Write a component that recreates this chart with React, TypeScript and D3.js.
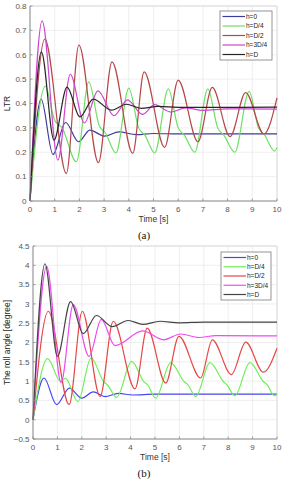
import React from 'react'
import * as d3 from 'd3'

type Pt = [number, number]

// ---- (a) LTR ----
const ltrH0: Pt[] = [[0, 0], [0.45, 0.418], [0.93, 0.191], [1.44, 0.322], [1.97, 0.243], [2.42, 0.291], [3.02, 0.266], [3.6, 0.284], [4.3, 0.272], [5, 0.277], [6, 0.275], [10, 0.275]]
const ltrHD4: Pt[] = [[0, 0], [0.62, 0.471], [1.0, 0.33], [1.3, 0.3], [1.88, 0.161], [2.38, 0.489], [2.8, 0.31], [3.05, 0.28], [3.48, 0.197], [4.0, 0.463], [4.4, 0.3], [4.65, 0.27], [5.05, 0.197], [5.6, 0.46], [6.0, 0.3], [6.25, 0.27], [6.67, 0.2], [7.2, 0.46], [7.6, 0.3], [7.85, 0.27], [8.29, 0.2], [8.87, 0.45], [9.25, 0.3], [9.5, 0.27], [9.9, 0.205], [10, 0.22]]
const ltrHD2: Pt[] = [[0, 0], [0.6, 0.664], [1.47, 0.113], [1.98, 0.64], [2.77, 0.157], [3.32, 0.571], [4.16, 0.195], [4.62, 0.53], [5.45, 0.22], [6.0, 0.496], [6.8, 0.243], [7.38, 0.466], [8.1, 0.264], [8.73, 0.445], [9.47, 0.275], [10, 0.423]]
const ltrH3D4: Pt[] = [[0, 0], [0.49, 0.739], [1.13, 0.168], [1.63, 0.52], [2.2, 0.32], [2.75, 0.452], [3.4, 0.35], [3.95, 0.415], [4.55, 0.355], [5.05, 0.395], [5.7, 0.365], [6.3, 0.382], [7, 0.372], [8, 0.378], [10, 0.377]]
const ltrHD: Pt[] = [[0, 0], [0.46, 0.612], [0.97, 0.25], [1.5, 0.467], [2.02, 0.345], [2.56, 0.418], [3.3, 0.373], [3.9, 0.397], [4.5, 0.38], [5.2, 0.388], [6, 0.384], [10, 0.385]]

// ---- (b) roll angle ----
const rollH0: Pt[] = [[0, 0], [0.45, 1.08], [0.97, 0.39], [1.49, 0.82], [2.0, 0.56], [2.47, 0.72], [2.95, 0.6], [3.5, 0.68], [4.1, 0.64], [5, 0.66], [10, 0.66]]
const rollHD4: Pt[] = [[0, 0], [0.6, 1.58], [1.12, 1.0], [1.33, 1.07], [1.84, 0.47], [2.38, 1.6], [2.9, 0.98], [3.05, 0.9], [3.43, 0.58], [4.04, 1.51], [4.55, 0.98], [4.7, 0.9], [5.03, 0.56], [5.64, 1.48], [6.19, 0.99], [6.35, 0.9], [6.67, 0.6], [7.25, 1.48], [7.8, 0.99], [7.95, 0.9], [8.27, 0.62], [8.89, 1.48], [9.44, 0.99], [9.6, 0.9], [9.9, 0.62], [10, 0.66]]
const rollHD2: Pt[] = [[0, 0], [0.63, 2.81], [1.48, 0.39], [2.02, 2.81], [2.75, 0.6], [3.29, 2.55], [4.18, 0.8], [4.68, 2.37], [5.44, 0.95], [5.98, 2.16], [6.87, 1.08], [7.35, 2.07], [8.13, 1.17], [8.72, 2.01], [9.44, 1.23], [10, 1.85]]
const rollH3D4: Pt[] = [[0, 0], [0.56, 3.97], [1.15, 0.96], [1.65, 2.98], [2.3, 1.64], [2.8, 2.6], [3.36, 1.92], [4.5, 2.3], [5.35, 2.07], [6.05, 2.22], [6.8, 2.13], [7.5, 2.18], [10, 2.17]]
const rollHD: Pt[] = [[0, 0], [0.49, 4.04], [1.0, 1.64], [1.54, 3.06], [2.06, 2.23], [2.6, 2.7], [3.25, 2.41], [3.9, 2.57], [4.5, 2.47], [5.2, 2.55], [6, 2.51], [7, 2.53], [10, 2.53]]

const legendNames = ['h=0', 'h=D/4', 'h=D/2', 'h=3D/4', 'h=D']
const xTicks = [0, 1, 2, 3, 4, 5, 6, 7, 8, 9, 10]
const ltrTicks = [0, 0.1, 0.2, 0.3, 0.4, 0.5, 0.6, 0.7, 0.8]
const rollTicks = [-0.5, 0, 0.5, 1, 1.5, 2, 2.5, 3, 3.5, 4, 4.5]

const colorsA = ['#3d3d9c', '#6ee066', '#b5474a', '#cc48cc', '#262626']
const colorsB = ['#4646ee', '#70ee5a', '#e54848', '#ee4cee', '#454545']

const font = 'Liberation Sans, Arial, sans-serif'

interface ChartProps {
  series: Pt[][]
  colors: string[]
  yTicks: number[]
  yDomain: [number, number]
  box: { left: number; right: number; top: number; bottom: number }
  yLabel: string
  yLabelX: number
  caption: string
  legend: { x: number; y: number; w: number; h: number }
  fmt: (v: number) => string
}

const Chart = ({ series, colors, yTicks, yDomain, box, yLabel, yLabelX, caption, legend, fmt }: ChartProps) => {
  const x = d3.scaleLinear().domain([0, 10]).range([box.left, box.right])
  const y = d3.scaleLinear().domain(yDomain).range([box.bottom, box.top])
  const line = d3.line<Pt>().x(d => x(d[0])).y(d => y(d[1])).curve(d3.curveMonotoneX)
  const midX = (box.left + box.right) / 2
  const midY = (box.top + box.bottom) / 2
  return (
    <g>
      {/* grid */}
      {xTicks.map(t => (
        <line key={'gx' + t} x1={x(t)} x2={x(t)} y1={box.top} y2={box.bottom} stroke="#e8e8e8" strokeWidth={0.7} />
      ))}
      {yTicks.map(t => (
        <line key={'gy' + t} x1={box.left} x2={box.right} y1={y(t)} y2={y(t)} stroke="#e8e8e8" strokeWidth={0.7} />
      ))}
      {/* top / right border */}
      <path d={`M${box.left},${box.top}H${box.right}V${box.bottom}`} fill="none" stroke="#d4d4d4" strokeWidth={0.8} />
      {/* series */}
      {series.map((s, i) => (
        <path key={'s' + i} d={line(s) || ''} fill="none" stroke={colors[i]} strokeWidth={1.2} />
      ))}
      {/* axes */}
      <line x1={box.left} x2={box.left} y1={box.top} y2={box.bottom} stroke="#8a8a8a" strokeWidth={1} />
      <line x1={box.left} x2={box.right} y1={box.bottom} y2={box.bottom} stroke="#8a8a8a" strokeWidth={1} />
      {xTicks.map(t => (
        <g key={'tx' + t}>
          <line x1={x(t)} x2={x(t)} y1={box.bottom} y2={box.bottom - 2.5} stroke="#8a8a8a" strokeWidth={0.8} />
          <text x={x(t)} y={box.bottom + 11} fontSize={8} fontFamily={font} fill="#555" textAnchor="middle">{t}</text>
        </g>
      ))}
      {yTicks.map(t => (
        <g key={'ty' + t}>
          <line x1={box.left} x2={box.left + 2.5} y1={y(t)} y2={y(t)} stroke="#8a8a8a" strokeWidth={0.8} />
          <text x={box.left - 3.5} y={y(t) + 2.8} fontSize={8} fontFamily={font} fill="#555" textAnchor="end">{fmt(t)}</text>
        </g>
      ))}
      <text x={midX} y={box.bottom + 21} fontSize={8.5} fontFamily={font} fill="#333" textAnchor="middle">Time [s]</text>
      <text transform={`translate(${yLabelX},${midY}) rotate(-90)`} fontSize={8.5} fontFamily={font} fill="#262626" textAnchor="middle">{yLabel}</text>
      <text x={144} y={box.bottom + 38} fontSize={11} fontFamily="Liberation Serif, Times New Roman, serif" fill="#111" textAnchor="middle">{caption}</text>
      {/* legend */}
      <rect x={legend.x} y={legend.y} width={legend.w} height={legend.h} fill="#fff" stroke="#7a7a7a" strokeWidth={0.8} />
      {legendNames.map((n, i) => {
        const ly = legend.y + 5.5 + i * ((legend.h - 11) / 4)
        return (
          <g key={'lg' + i}>
            <line x1={legend.x + 2.5} x2={legend.x + 25} y1={ly} y2={ly} stroke={colors[i]} strokeWidth={1.2} />
            <text x={legend.x + 26} y={ly + 2.3} fontSize={6.5} fontFamily={font} fill="#222">{n}</text>
          </g>
        )
      })}
    </g>
  )
}

export default function App() {
  return (
    <div style={{ position: 'absolute', left: 0, top: 0 }}>
      <svg width={288} height={480} style={{ display: 'block', background: '#fff' }}>
        <Chart
          series={[ltrH0, ltrHD4, ltrHD2, ltrH3D4, ltrHD]}
          colors={colorsA}
          yTicks={ltrTicks}
          yDomain={[0, 0.8]}
          box={{ left: 30, right: 277, top: 6, bottom: 201 }}
          yLabel="LTR"
          yLabelX={10}
          caption="(a)"
          legend={{ x: 220, y: 11, w: 52, h: 49 }}
          fmt={v => (v === 0 ? '0' : d3.format('.1f')(v))}
        />
        <Chart
          series={[rollH0, rollHD4, rollHD2, rollH3D4, rollHD]}
          colors={colorsB}
          yTicks={rollTicks}
          yDomain={[-0.5, 4.5]}
          box={{ left: 33, right: 277, top: 246, bottom: 439 }}
          yLabel="The roll angle [degree]"
          yLabelX={10}
          caption="(b)"
          legend={{ x: 221, y: 252, w: 50, h: 48 }}
          fmt={v => (Number.isInteger(v) ? String(v) : d3.format('.1f')(v))}
        />
      </svg>
    </div>
  )
}
